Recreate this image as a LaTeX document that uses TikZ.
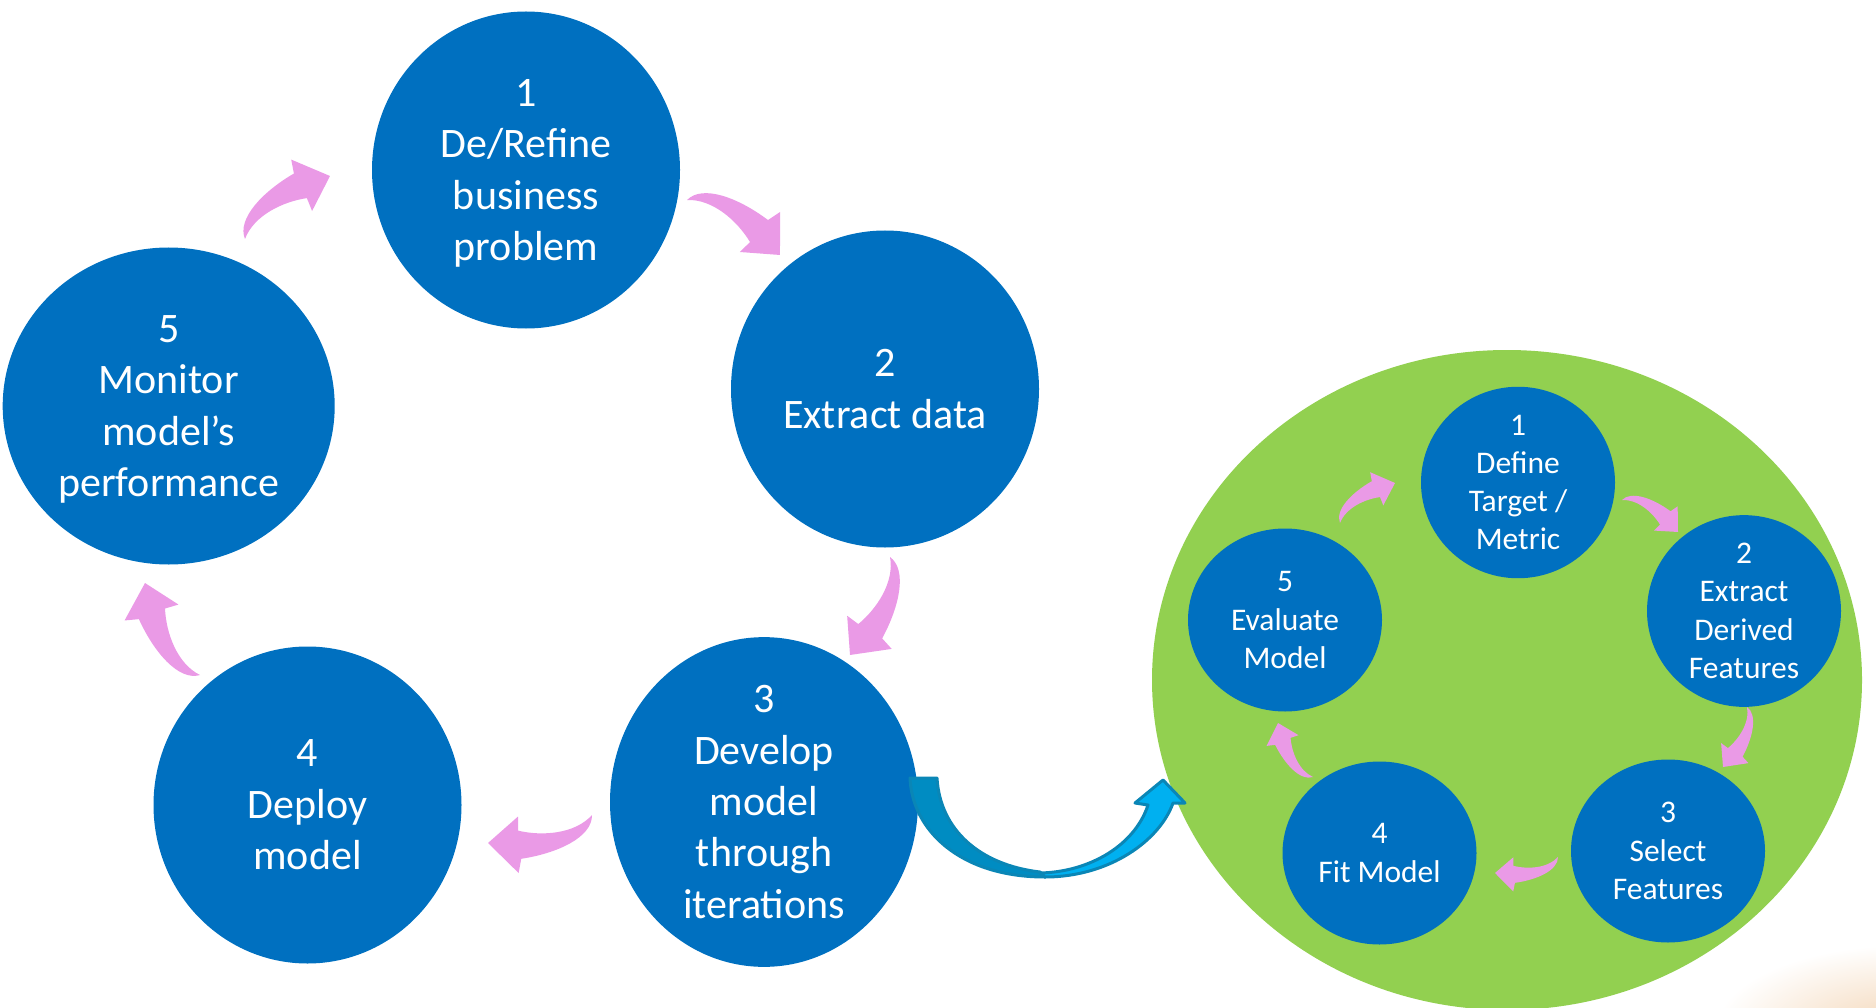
\documentclass[tikz,border=0pt]{standalone}
\usepackage{fontspec}
\setmainfont{Carlito}
\usetikzlibrary{shapes.geometric,calc}
\definecolor{cblue}{HTML}{0070C0}
\definecolor{cgreen}{HTML}{92D050}
\definecolor{cpink}{HTML}{EA9AE6}
\definecolor{arrdark}{HTML}{008CC2}
\definecolor{arrlight}{HTML}{00B0F0}
\definecolor{arredge}{HTML}{0A86B6}
\definecolor{peach}{HTML}{F3D5B5}

\newcommand\pinkarrow[2]{%
  \pgfpointdiff{\pgfpointanchor{#1}{center}}{\pgfpointanchor{#2}{center}}%
  \pgfgetlastxy{\pax}{\pay}%
  \pgfmathsetmacro\parang{atan2(\pay,\pax)}%
  \pgfmathsetmacro\parlen{veclen(\pax,\pay)}%
  \fill[cpink, shift={(#1)}, rotate=\parang, x=\parlen pt, y=\parlen pt]
    (0,0) .. controls (0.05,0.2) and (0.4,0.26) .. (0.74,0.222)
    -- (0.798,0.343) -- (1,0) -- (0.667,-0.165) -- (0.70,-0.038)
    .. controls (0.5,0.07) and (0.2,0.13) .. (0,0) -- cycle;
}

\begin{document}
\begin{tikzpicture}[x=1pt,y=-1pt,
  bigc/.style={ellipse, fill=cblue, text=white, inner sep=0pt, align=center,
    minimum width=308pt, minimum height=317pt, font=\fontsize{42}{51.4}\selectfont},
  smallc/.style={ellipse, fill=cblue, text=white, inner sep=0pt, align=center,
    minimum width=194pt, minimum height=183pt, font=\fontsize{31.5}{38.3}\selectfont}]
\useasboundingbox (0,0) rectangle (1876,1008);

% faint glow bottom right
\begin{scope}
\clip (0,0) rectangle (1876,1008);
\shade[inner color=peach, outer color=white] (1905,1030) ellipse (190pt and 85pt);
\end{scope}

% green ellipse
\node[ellipse, fill=cgreen, minimum width=710pt, minimum height=660pt, inner sep=0pt] (green) at (1507,680) {};

% big cycle
\node[bigc] (c1) at (526,170) {1\\De/Refine\\business\\\smash{problem}};
\node[bigc] (c2) at (885,389) {2\\Extract data};
\node[bigc] (c3) at (764,802) {3\\Develop\\model\\through\\iterations};
\node[bigc] (c4) at (307.5,805) {4\\Deploy\\model};
\node[bigc, minimum width=332pt] (c5) at (168.7,406) {5\\Monitor\\model’s\\\smash{performance}};

% small cycle
\node[smallc] (s1) at (1518,482.5) {1\\Define\\Target /\\Metric};
\node[smallc] (s2) at (1744,611) {2\\Extract\\Derived\\Features};
\node[smallc] (s3) at (1668,851) {3\\Select\\Features};
\node[smallc] (s4) at (1379.5,853) {4\\Fit Model};
\node[smallc] (s5) at (1285,620) {5\\Evaluate\\Model};

% pink arrow coordinates
\coordinate (b12t) at (687,200);  \coordinate (b12h) at (780,255);
\coordinate (b23t) at (890,557);  \coordinate (b23h) at (850,655);
\coordinate (b34t) at (592,815);  \coordinate (b34h) at (488,843);
\coordinate (b45t) at (200,675);  \coordinate (b45h) at (145,583);
\coordinate (b51t) at (245,239);  \coordinate (b51h) at (330,176);
\coordinate (s12t) at (1622,500); \coordinate (s12h) at (1678,532);
\coordinate (s23t) at (1747,707); \coordinate (s23h) at (1723,767);
\coordinate (s34t) at (1558,857); \coordinate (s34h) at (1495,873);
\coordinate (s45t) at (1313,777); \coordinate (s45h) at (1278,723);
\coordinate (s51t) at (1340,523); \coordinate (s51h) at (1395,483);

\pinkarrow{b12t}{b12h}
\pinkarrow{b23t}{b23h}
\pinkarrow{b34t}{b34h}
\pinkarrow{b45t}{b45h}
\pinkarrow{b51t}{b51h}
\pinkarrow{s12t}{s12h}
\pinkarrow{s23t}{s23h}
\pinkarrow{s34t}{s34h}
\pinkarrow{s45t}{s45h}
\pinkarrow{s51t}{s51h}

% blue curved arrow from circle 3 to the green ellipse
\filldraw[fill=arrdark, draw=arredge, line width=3pt, line join=round]
  (910,778) .. controls (912,830) and (960,877) .. (1045,877)
  -- (1040,872) .. controls (980,865) and (940,830) .. (937,778) -- cycle;
\filldraw[fill=arrlight, draw=arredge, line width=3pt, line join=round]
  (1045,877) .. controls (1110,877) and (1160,840) .. (1173,803)
  -- (1185,803) -- (1163,780) -- (1135,803) -- (1148,805)
  .. controls (1135,845) and (1090,872) .. (1040,873) -- cycle;
\end{tikzpicture}
\end{document}
